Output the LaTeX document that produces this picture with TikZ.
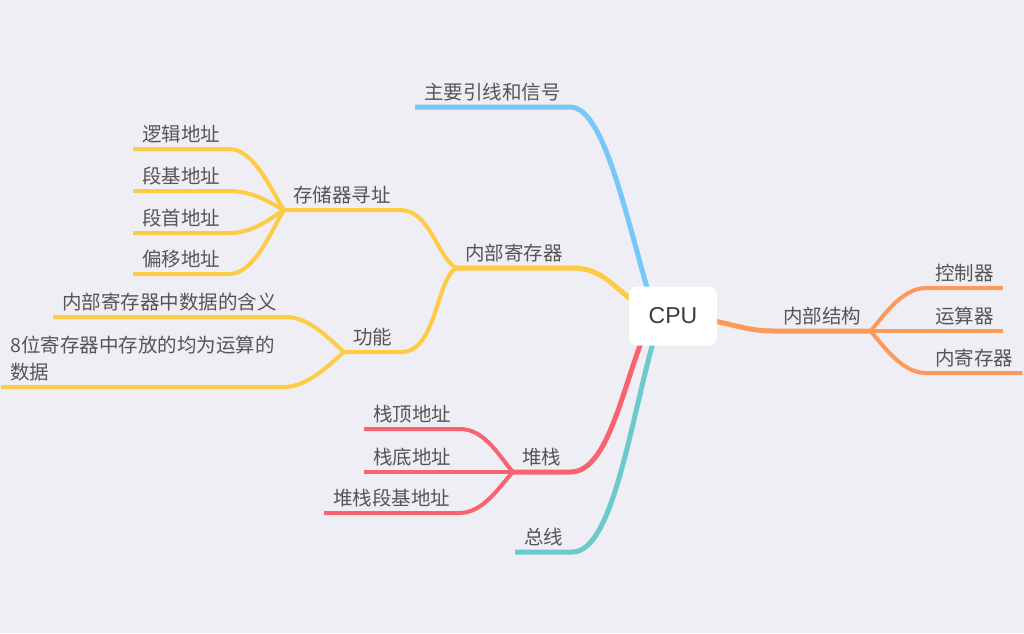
\documentclass[tikz,border=0pt]{standalone}
\usepackage{fontspec}
\setmainfont{Noto Sans CJK SC}
\newfontfamily\cpufont{Liberation Sans}
\usetikzlibrary{calc,backgrounds}

\definecolor{bgc}{RGB}{239,238,244}
\definecolor{txt}{RGB}{85,85,85}
\definecolor{cputxt}{RGB}{60,60,60}
\definecolor{cblue}{RGB}{118,200,248}
\definecolor{cyellow}{RGB}{253,203,68}
\definecolor{cred}{RGB}{247,99,111}
\definecolor{cteal}{RGB}{107,202,203}
\definecolor{corange}{RGB}{252,154,92}

\begin{document}
\begin{tikzpicture}[x=1pt, y=-1pt,
  line cap=round,
  item/.style={anchor=south west, inner xsep=9pt, inner ysep=7pt, text depth=0pt,
    text=txt, font=\fontsize{19.5}{27}\selectfont},
  cpubox/.style={fill=white, rounded corners=8pt, minimum width=88pt, minimum height=59pt,
    text=cputxt, font=\cpufont\fontsize{23}{27}\selectfont},
  main/.style={line width=5pt},
  twig/.style={line width=4pt}]

  \useasboundingbox (0,0) rectangle (1024,633);

  \node[cpubox] (cpu) at (673,316) {CPU};

  \node[item] (zyyx) at (415,107) {主要引线和信号};
  \node[item] (nbjc) at (456,268) {内部寄存器};
  \node[item] (ccjz) at (284,210) {存储器寻址};
  \node[item] (ljdz) at (133,149) {逻辑地址};
  \node[item] (djdz) at (133,191) {段基地址};
  \node[item] (dsdz) at (133,233) {段首地址};
  \node[item] (pydz) at (133,274) {偏移地址};
  \node[item] (gn) at (344,352) {功能};
  \node[item] (hy) at (53,317) {内部寄存器中数据的含义};
  \node[item, align=left] (ys) at (1,387) {8位寄存器中存放的均为运算的\\数据};
  \node[item] (dz) at (513,472) {堆栈};
  \node[item] (zddz) at (364,429) {栈顶地址};
  \node[item] (zdd2) at (364,472) {栈底地址};
  \node[item] (dzdj) at (324,513) {堆栈段基地址};
  \node[item] (zx) at (515,552) {总线};
  \node[item] (nbjg) at (774,331) {内部结构};
  \node[item] (kzq) at (926,288) {控制器};
  \node[item] (ysq) at (926,331) {运算器};
  \node[item] (njcq) at (926,373) {内寄存器};

  \begin{scope}[on background layer]
    \fill[bgc] (0,0) rectangle (1024,633);
    % 主要引线和信号
    \draw[main, cblue] ($(cpu.north)+(-25,5)$) .. controls +(-26,-92) and +(32,0) .. (zyyx.south east) -- (zyyx.south west);
    % 内部寄存器
    \draw[main, cyellow] ($(cpu.west)+(3,-16)$) .. controls +(-22,-17) and +(28,0) .. (nbjc.south east) -- (nbjc.south west);
    \draw[twig, cyellow] (nbjc.south west) .. controls +(-20,-13) and +(30,0) .. (ccjz.south east) -- (ccjz.south west);
    \draw[twig, cyellow] (nbjc.south west) .. controls +(-20,12) and +(35,0) .. (gn.south east) -- (gn.south west);
    \draw[twig, cyellow] (ccjz.south west) .. controls +(-12,-18) and +(25,0) .. (ljdz.south east) -- (ljdz.south west);
    \draw[twig, cyellow] (ccjz.south west) .. controls +(-12,-6) and +(25,0) .. (djdz.south east) -- (djdz.south west);
    \draw[twig, cyellow] (ccjz.south west) .. controls +(-12,7) and +(25,0) .. (dsdz.south east) -- (dsdz.south west);
    \draw[twig, cyellow] (ccjz.south west) .. controls +(-12,19) and +(25,0) .. (pydz.south east) -- (pydz.south west);
    \draw[twig, cyellow] (gn.south west) .. controls +(-12,-10) and +(25,0) .. (hy.south east) -- (hy.south west);
    \draw[twig, cyellow] (gn.south west) .. controls +(-12,10) and +(25,0) .. (ys.south east) -- (ys.south west);
    % 堆栈
    \draw[main, cred] ($(cpu.south)+(-32,-3)$) .. controls +(-21,57) and +(35,0) .. (dz.south east) -- (dz.south west);
    \draw[twig, cred] (dz.south west) .. controls +(-12,-13) and +(25,0) .. (zddz.south east) -- (zddz.south west);
    \draw[twig, cred] (dz.south west) -- (zdd2.south west);
    \draw[twig, cred] (dz.south west) .. controls +(-12,12) and +(25,0) .. (dzdj.south east) -- (dzdj.south west);
    % 总线
    \draw[main, cteal] ($(cpu.south)+(-20,-3)$) .. controls +(-23,82) and +(40,0) .. (zx.south east) -- (zx.south west);
    % 内部结构
    \draw[main, corange] ($(cpu.east)+(-3,5)$) .. controls +(21,4) and +(-25,0) .. (nbjg.south west) -- (nbjg.south east);
    \draw[twig, corange] (nbjg.south east) .. controls +(12,-13) and +(-25,0) .. (kzq.south west) -- (kzq.south east);
    \draw[twig, corange] (nbjg.south east) -- (ysq.south east);
    \draw[twig, corange] (nbjg.south east) .. controls +(12,13) and +(-25,0) .. (njcq.south west) -- (njcq.south east);
  \end{scope}
\end{tikzpicture}
\end{document}
